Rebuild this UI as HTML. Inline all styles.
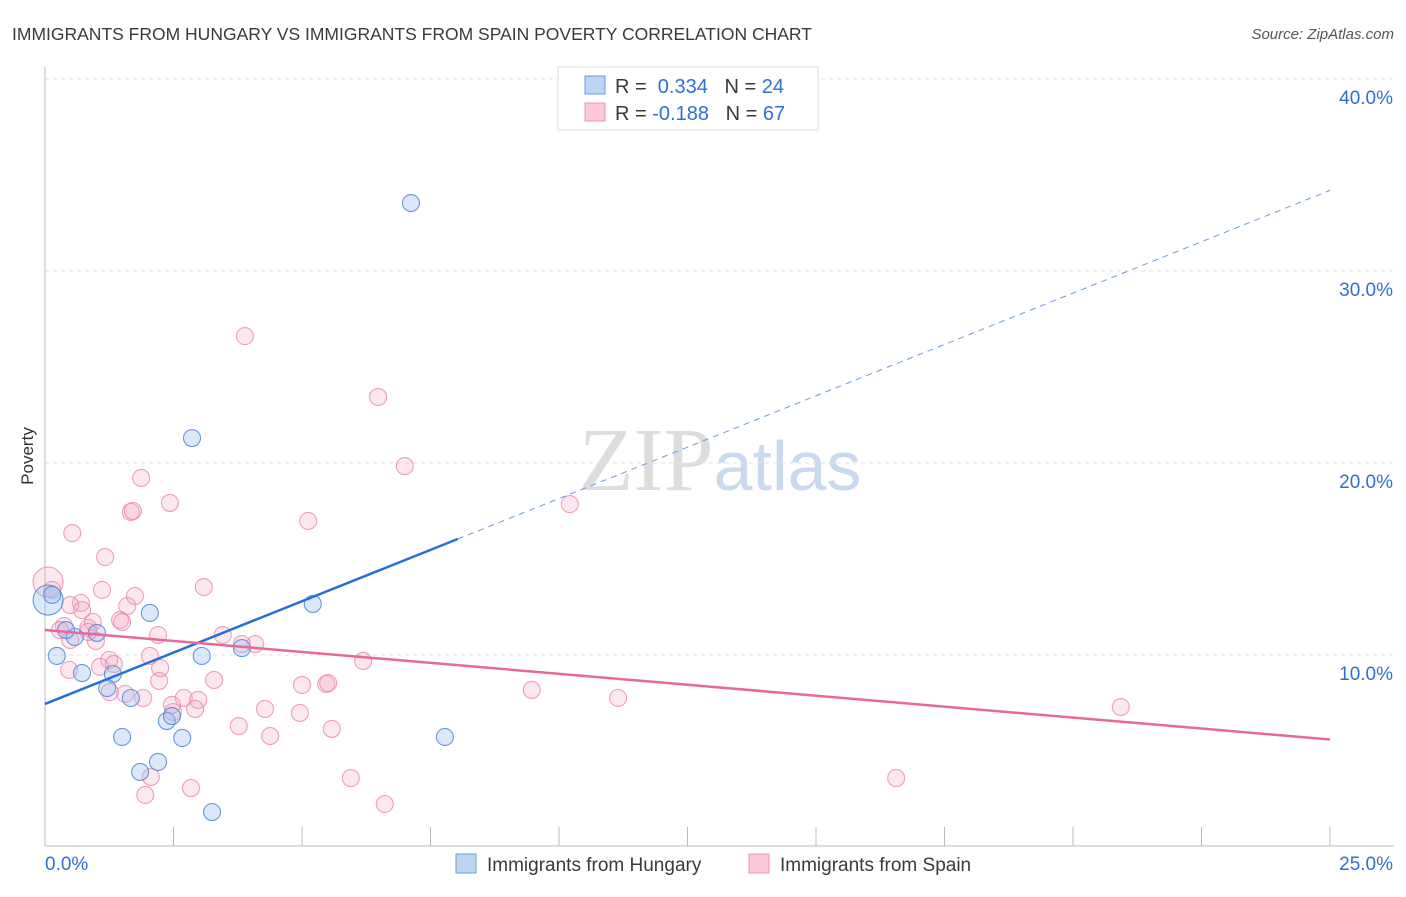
<!DOCTYPE html>
<html><head><meta charset="utf-8"><style>
body{margin:0;background:#fff;font-family:"Liberation Sans",sans-serif;}
</style></head><body>
<svg width="1406" height="892" xmlns="http://www.w3.org/2000/svg" font-family="Liberation Sans, sans-serif">
<text x="12" y="40" font-size="17.5" fill="#3a3a3a">IMMIGRANTS FROM HUNGARY VS IMMIGRANTS FROM SPAIN POVERTY CORRELATION CHART</text>
<text x="1394" y="39" font-size="15" fill="#555" text-anchor="end" font-style="italic">Source: ZipAtlas.com</text>
<text x="720" y="490" font-size="90" text-anchor="middle" fill="#ddd" font-family="Liberation Serif, serif">ZIP<tspan fill="#c9daf0" font-family="Liberation Sans, sans-serif" font-size="70">atlas</tspan></text>
<g id="grid"></g>
<g id="axes"></g>
<g id="marks"></g>
<text transform="translate(33,456) rotate(-90)" font-size="17" text-anchor="middle" fill="#333">Poverty</text>
<g>
<rect x="558" y="67" width="260" height="63" fill="#fff" stroke="#ddd"/>
<rect x="585" y="76" width="20" height="18" fill="#bcd5f5" stroke="#6a9ae0"/>
<rect x="585" y="103" width="20" height="18" fill="#fcc9d8" stroke="#ec94b0"/>
<text x="615" y="93" font-size="20" fill="#3a3a3a">R = <tspan fill="#2f6fd6">&#160;0.334</tspan>&#160;&#160;&#160;N = <tspan fill="#2f6fd6">24</tspan></text>
<text x="615" y="120" font-size="20" fill="#3a3a3a">R = <tspan fill="#2f6fd6">-0.188</tspan>&#160;&#160;&#160;N = <tspan fill="#2f6fd6">67</tspan></text>
</g>
<g>
<rect x="456" y="854" width="20" height="19" fill="#bcd5f5" stroke="#6a9ae0"/>
<text x="487" y="871" font-size="19" fill="#3a3a3a">Immigrants from Hungary</text>
<rect x="749" y="854" width="20" height="19" fill="#fcc9d8" stroke="#ec94b0"/>
<text x="780" y="871" font-size="19" fill="#3a3a3a">Immigrants from Spain</text>
</g>
</svg>
<script>
const yTicks=[10,20,30,40];
const yTickLabels=["10.0%","20.0%","30.0%","40.0%"];
const xEndLabels=["0.0%","25.0%"];
const hungaryX=[7.12,2.86,2.04,5.21,0.23,0.58,1.01,0.72,1.32,1.21,1.67,2.37,2.47,1.50,2.67,1.85,2.20,3.25,3.83,3.05,7.78,0.06,0.41,0.14];
const hungaryY=[33.54,21.30,12.19,12.66,9.95,10.94,11.15,9.06,9.01,8.28,7.76,6.56,6.82,5.73,5.68,3.91,4.43,1.82,10.36,9.95,5.73,12.86,11.30,13.13];
const spainX=[3.89,6.48,7.00,1.87,2.43,1.67,1.71,5.12,10.21,0.53,1.17,3.09,1.11,1.75,0.70,1.60,0.72,1.46,1.50,0.93,0.37,0.84,0.29,2.20,3.46,4.09,0.99,0.49,2.04,1.25,1.34,6.19,0.47,1.07,1.56,1.91,2.22,2.70,2.98,3.29,5.00,5.47,5.51,9.47,11.15,20.93,4.28,2.92,2.49,4.96,3.77,5.58,4.38,2.06,1.95,2.84,5.95,6.61,16.56,0.06,0.14,1.26,0.49,2.47,0.84,2.24,3.83];
const spainY=[26.61,23.44,19.84,19.22,17.92,17.45,17.50,16.98,17.86,16.35,15.10,13.54,13.39,13.07,12.71,12.55,12.34,11.82,11.72,11.72,11.51,11.41,11.30,11.04,11.04,10.57,10.73,10.78,9.95,9.74,9.53,9.69,9.22,9.38,7.97,7.76,8.65,7.76,7.66,8.70,8.44,8.49,8.54,8.18,7.76,7.29,7.19,7.19,7.03,6.98,6.30,6.15,5.78,3.65,2.71,3.07,3.59,2.24,3.59,13.80,13.39,8.07,12.60,7.40,11.20,9.32,10.57];
const hungaryBig=[21];const spainBig=[59];
const hungaryTrend=[7.45,1.07];
const spainTrend=[11.3,-0.228];
const hungarySolidEnd=8.03;

const X=v=>45+v*51.4, Y=v=>847-v*19.2;
const NS="http://www.w3.org/2000/svg";
function mk(tag,attrs,parent){const e=document.createElementNS(NS,tag);for(const k in attrs)e.setAttribute(k,attrs[k]);document.getElementById(parent).appendChild(e);return e;}
yTicks.forEach((t,i)=>{
 const g=mk('line',{x1:45,x2:1394,y1:Y(t),y2:Y(t),stroke:'#e2e2e2','stroke-dasharray':'4,4'},'grid');
 
 
 const l=mk('text',{x:1393,y:Y(t)+25,'font-size':19,'text-anchor':'end',fill:'#2f6fd6'},'grid');
 l.textContent=yTickLabels[i];
 
 
});
const ax=mk('line',{x1:45,x2:45,y1:67,y2:846,stroke:'#bbb'},'axes');


const bx=mk('line',{x1:45,x2:1394,y1:846,y2:846,stroke:'#bbb'},'axes');


for(let i=1;i<=10;i++){const t=mk('line',{x1:X(i*2.5),x2:X(i*2.5),y1:827,y2:846,stroke:'#bbb'},'axes');
 
 }
[[0,50,'start'],[25,1393,'end']].forEach((a,i)=>{const t=mk('text',{x:i?1393:45,y:870,'font-size':19,fill:'#2f6fd6','text-anchor':a[2]},'axes');t.textContent=xEndLabels[i];
 
 });
function pts(xs,ys,big,fill,stroke,name){xs.forEach((x,i)=>{const c=mk('circle',{cx:X(x),cy:Y(ys[i]),r:big.includes(i)?15:8.5,fill:fill,stroke:stroke,'stroke-width':1.1},'marks');
 
 });}
pts(spainX,spainY,spainBig,'rgba(246,168,194,0.28)','rgba(232,130,165,0.75)','spain-point');
pts(hungaryX,hungaryY,hungaryBig,'rgba(150,190,240,0.35)','rgba(80,135,215,0.85)','hungary-point');
const ht=v=>hungaryTrend[0]+hungaryTrend[1]*v, st=v=>spainTrend[0]+spainTrend[1]*v;
const l1=mk('line',{x1:X(0),y1:Y(ht(0)),x2:X(hungarySolidEnd),y2:Y(ht(hungarySolidEnd)),stroke:'#2370d8','stroke-width':2.5},'marks');


const l2=mk('line',{x1:X(hungarySolidEnd),y1:Y(ht(hungarySolidEnd)),x2:X(25),y2:Y(ht(25)),stroke:'#6a9ae0','stroke-width':1,'stroke-dasharray':'6,5'},'marks');


const l3=mk('line',{x1:X(0),y1:Y(st(0)),x2:X(25),y2:Y(st(25)),stroke:'#e8689a','stroke-width':2.5},'marks');


</script>
</body></html>
